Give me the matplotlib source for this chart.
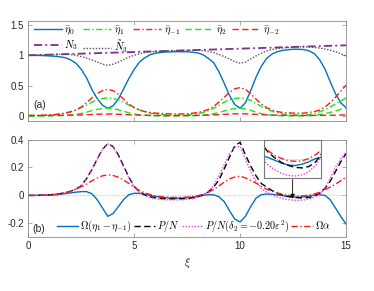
import numpy as np
import matplotlib
matplotlib.use("Agg")
from matplotlib import pyplot as plt

# xi grid shared by all curves (step 0.25)
xi = np.linspace(0, 15, 61)

# ---- panel (a) ----
eta0 = [1.000, 1.000, 0.998, 0.995, 0.990, 0.985, 0.975, 0.960, 0.925, 0.870,
        0.770, 0.630, 0.440, 0.290, 0.180, 0.130, 0.170, 0.280, 0.450, 0.620,
        0.770, 0.890, 0.960, 1.010, 1.035, 1.048, 1.055, 1.058, 1.060, 1.060,
        1.058, 1.052, 1.040, 1.010, 0.950, 0.880, 0.730, 0.540, 0.340, 0.190,
        0.130, 0.220, 0.420, 0.640, 0.820, 0.950, 1.020, 1.060, 1.080, 1.092,
        1.100, 1.100, 1.095, 1.075, 1.030, 0.930, 0.780, 0.570, 0.370, 0.220, 0.140]
eta1 = [0.005, 0.006, 0.008, 0.011, 0.015, 0.022, 0.035, 0.052, 0.075, 0.100,
        0.140, 0.180, 0.230, 0.270, 0.290, 0.300, 0.290, 0.270, 0.230, 0.180,
        0.140, 0.100, 0.075, 0.050, 0.035, 0.027, 0.020, 0.017, 0.015, 0.016,
        0.020, 0.028, 0.040, 0.060, 0.090, 0.130, 0.180, 0.230, 0.270, 0.290,
        0.300, 0.290, 0.260, 0.210, 0.160, 0.120, 0.080, 0.055, 0.035, 0.025,
        0.020, 0.018, 0.020, 0.025, 0.040, 0.070, 0.105, 0.150, 0.200, 0.250, 0.300]
eta_m1 = [0.010, 0.010, 0.012, 0.015, 0.020, 0.027, 0.035, 0.050, 0.070, 0.100,
          0.150, 0.220, 0.300, 0.370, 0.420, 0.440, 0.420, 0.360, 0.280, 0.200,
          0.140, 0.100, 0.075, 0.060, 0.050, 0.045, 0.040, 0.037, 0.035, 0.036,
          0.040, 0.048, 0.060, 0.080, 0.110, 0.160, 0.230, 0.310, 0.390, 0.450,
          0.470, 0.440, 0.370, 0.280, 0.200, 0.140, 0.100, 0.075, 0.060, 0.054,
          0.050, 0.049, 0.050, 0.060, 0.075, 0.100, 0.150, 0.220, 0.310, 0.410, 0.510]
eta2 = [0.000, 0.000, 0.001, 0.002, 0.003, 0.005, 0.008, 0.012, 0.018, 0.030,
        0.045, 0.065, 0.090, 0.110, 0.125, 0.130, 0.125, 0.105, 0.080, 0.055,
        0.035, 0.022, 0.013, 0.008, 0.005, 0.004, 0.003, 0.003, 0.003, 0.004,
        0.005, 0.007, 0.010, 0.016, 0.025, 0.040, 0.060, 0.085, 0.110, 0.125,
        0.130, 0.120, 0.095, 0.065, 0.040, 0.025, 0.015, 0.010, 0.006, 0.005,
        0.004, 0.004, 0.005, 0.008, 0.015, 0.025, 0.040, 0.060, 0.085, 0.110, 0.130]
eta_m2 = [0.012, 0.012, 0.012, 0.012, 0.013, 0.013, 0.014, 0.015, 0.016, 0.018,
          0.020, 0.023, 0.027, 0.031, 0.034, 0.035, 0.034, 0.031, 0.027, 0.023,
          0.020, 0.017, 0.015, 0.013, 0.012, 0.011, 0.010, 0.010, 0.010, 0.010,
          0.011, 0.012, 0.013, 0.015, 0.017, 0.020, 0.024, 0.029, 0.034, 0.038,
          0.040, 0.038, 0.034, 0.029, 0.024, 0.020, 0.017, 0.015, 0.013, 0.012,
          0.011, 0.010, 0.010, 0.010, 0.011, 0.012, 0.013, 0.015, 0.016, 0.018, 0.020]
xi_n3 = [0, 2.5, 5, 7.5, 10, 12.5, 15]
n3 = [1.000, 1.028, 1.055, 1.083, 1.110, 1.138, 1.165]
n3_tilde = [1.000, 1.003, 1.006, 1.008, 1.011, 1.014, 1.017, 1.019, 1.015, 1.000,
            0.980, 0.955, 0.925, 0.890, 0.855, 0.835, 0.855, 0.890, 0.930, 0.970,
            1.000, 1.025, 1.045, 1.058, 1.064, 1.069, 1.072, 1.074, 1.077, 1.080,
            1.083, 1.085, 1.084, 1.078, 1.065, 1.045, 1.015, 0.980, 0.940, 0.895,
            0.870, 0.890, 0.940, 0.990, 1.035, 1.070, 1.095, 1.110, 1.120, 1.128,
            1.134, 1.138, 1.140, 1.137, 1.130, 1.120, 1.105, 1.085, 1.060, 1.025, 0.990]

# ---- panel (b) ----
omega_diff = [0.000, 0.000, 0.000, 0.001, 0.002, 0.004, 0.008, 0.013, 0.018, 0.023,
              0.027, 0.027, 0.012, -0.030, -0.090, -0.150, -0.130, -0.080, -0.030, 0.005,
              0.015, 0.015, 0.008, 0.000, -0.008, -0.013, -0.017, -0.019, -0.020, -0.019,
              -0.017, -0.013, -0.008, 0.000, 0.005, 0.004, -0.010, -0.045, -0.110, -0.170,
              -0.190, -0.150, -0.080, -0.020, 0.005, 0.010, 0.008, 0.004, -0.002, -0.008,
              -0.012, -0.013, -0.010, -0.005, 0.002, 0.005, 0.000, -0.030, -0.090, -0.150, -0.205]
p_over_n = [0.000, 0.000, 0.001, 0.002, 0.004, 0.007, 0.012, 0.020, 0.030, 0.045,
            0.070, 0.120, 0.185, 0.260, 0.330, 0.370, 0.350, 0.290, 0.210, 0.130,
            0.065, 0.025, 0.003, -0.010, -0.018, -0.022, -0.024, -0.025, -0.025, -0.024,
            -0.022, -0.018, -0.010, 0.003, 0.025, 0.060, 0.110, 0.190, 0.275, 0.355,
            0.380, 0.290, 0.210, 0.140, 0.085, 0.060, 0.035, 0.015, 0.003, -0.007,
            -0.013, -0.017, -0.018, -0.015, -0.005, 0.015, 0.050, 0.100, 0.170, 0.240, 0.300]
p_over_n_d2 = [0.000, 0.000, 0.001, 0.002, 0.004, 0.007, 0.012, 0.020, 0.030, 0.045,
               0.070, 0.120, 0.185, 0.260, 0.330, 0.368, 0.348, 0.285, 0.205, 0.125,
               0.060, 0.020, -0.002, -0.015, -0.024, -0.029, -0.031, -0.032, -0.032, -0.031,
               -0.029, -0.024, -0.014, 0.002, 0.027, 0.070, 0.140, 0.220, 0.295, 0.345,
               0.350, 0.260, 0.170, 0.100, 0.050, 0.022, 0.003, -0.012, -0.022, -0.030,
               -0.034, -0.035, -0.033, -0.026, -0.012, 0.010, 0.050, 0.120, 0.200, 0.260, 0.310]
omega_alpha = [0.000, 0.000, 0.001, 0.002, 0.004, 0.007, 0.012, 0.020, 0.030, 0.045,
               0.062, 0.082, 0.104, 0.124, 0.140, 0.147, 0.143, 0.130, 0.110, 0.085,
               0.058, 0.035, 0.018, 0.006, -0.003, -0.008, -0.012, -0.014, -0.015, -0.014,
               -0.012, -0.008, -0.002, 0.008, 0.022, 0.042, 0.068, 0.095, 0.118, 0.132,
               0.137, 0.125, 0.108, 0.088, 0.065, 0.045, 0.030, 0.018, 0.008, 0.002,
               -0.003, -0.004, -0.003, 0.002, 0.010, 0.022, 0.040, 0.060, 0.080, 0.105, 0.130]

BLUE = "#0072BD"
GREEN = "#19E619"
RED = "#FF1A1A"
PURPLE = "#7E2F8E"
MAGENTA = "#F03CF0"
FRAME = "#8a8a8a"
TXT = "#262626"

plt.rcParams["font.family"] = ["Liberation Sans", "DejaVu Sans"]
plt.rcParams["mathtext.fontset"] = "cm"
plt.rcParams["font.size"] = 7

DD = (4.5, 1.8, 1.0, 1.8)   # dash-dot
DA = (4.5, 2.5)             # dashed
DO = (1.0, 1.2)             # dotted


def style_axes(ax):
    for s in ax.spines.values():
        s.set_color(FRAME)
        s.set_linewidth(0.6)
    ax.tick_params(direction="in", top=True, right=True, length=3, width=0.5,
                   color=FRAME, labelcolor=TXT, labelsize=7, pad=3)


fig = plt.figure(figsize=(3.74, 2.91), dpi=100)
ax1 = fig.add_axes([0.0757, 0.5842, 0.8495, 0.3447])
ax2 = fig.add_axes([0.0757, 0.1845, 0.8495, 0.3361])

lw = 1.0
h0, = ax1.plot(xi, eta0, color=BLUE, lw=lw, label=r"$\bar{\eta}_0$")
h1, = ax1.plot(xi, eta1, color=GREEN, lw=lw, dashes=DD, label=r"$\bar{\eta}_1$")
hm1, = ax1.plot(xi, eta_m1, color=RED, lw=lw, dashes=DD, label=r"$\bar{\eta}_{-1}$")
h2, = ax1.plot(xi, eta2, color=GREEN, lw=lw, dashes=DA, label=r"$\bar{\eta}_2$")
hm2, = ax1.plot(xi, eta_m2, color=RED, lw=lw, dashes=DA, label=r"$\bar{\eta}_{-2}$")
hn, = ax1.plot(xi_n3, n3, color=PURPLE, lw=1.3, dashes=DD, label=r"$N_3$")
hnt, = ax1.plot(xi, n3_tilde, color="#555555", lw=lw, dashes=DO, label=r"$\tilde{N}_3$")

ax1.set_xlim(0, 15)
ax1.set_ylim(-0.08, 1.57)
ax1.set_xticks([0, 5, 10, 15])
ax1.set_xticklabels([])
ax1.set_yticks([0, 0.5, 1, 1.5])
ax1.set_yticklabels(["0", "0.5", "1", "1.5"])
style_axes(ax1)

blank, = ax1.plot([], [], color="none")
handles = [h0, hn, h1, hnt, hm1, blank, h2, blank, hm2, blank]
labels = [h.get_label() if h is not blank else "" for h in handles]
ax1.legend(handles, labels, ncol=5, loc="upper left", bbox_to_anchor=(0.0, 1.02),
           frameon=False, fontsize=7.5, handlelength=2.7, handletextpad=0.25,
           columnspacing=0.5, labelspacing=0.15, borderaxespad=0.1)
ax1.text(0.017, 0.16, "(a)", transform=ax1.transAxes, va="center", ha="left",
         fontsize=7.5, color=TXT)

# ---- panel (b) ----
def draw_b(ax, lw=1.0):
    ax.axhline(0, color="#c8c8c8", lw=0.8, dashes=(1, 1.2))
    a, = ax.plot(xi, omega_diff, color=BLUE, lw=lw,
                 label=r"$\Omega(\eta_1-\eta_{-1})$")
    b, = ax.plot(xi, p_over_n, color="black", lw=lw, dashes=DA, label=r"$P/N$")
    c, = ax.plot(xi, p_over_n_d2, color=MAGENTA, lw=lw, dashes=DO,
                 label=r"$P/N(\delta_2=-0.20\varepsilon^2)$")
    d, = ax.plot(xi, omega_alpha, color=RED, lw=lw, dashes=DD, label=r"$\Omega\alpha$")
    return [a, b, c, d]


hb = draw_b(ax2)
ax2.set_xlim(0, 15)
ax2.set_ylim(-0.3, 0.4)
ax2.set_xticks([0, 5, 10, 15])
ax2.set_xticklabels(["0", "5", "10", "15"])
ax2.set_yticks([-0.2, 0, 0.2, 0.4])
ax2.set_yticklabels(["-0.2", "0", "0.2", "0.4"])
style_axes(ax2)
ax2.set_xlabel(r"$\xi$", color=TXT, fontsize=8, labelpad=3)
ax2.legend(handles=hb, ncol=4, loc="lower center", bbox_to_anchor=(0.52, -0.02),
           frameon=False, fontsize=7.3, handlelength=2.1, handletextpad=0.2,
           columnspacing=0.2, borderaxespad=0.1)
ax2.text(0.014, 0.09, "(b)", transform=ax2.transAxes, va="center", ha="left",
         fontsize=7.5, color=TXT)

# inset zoom of the trough
axin = ax2.inset_axes([0.742, 0.603, 0.180, 0.397])
draw_b(axin)
axin.set_xlim(11.6, 13.7)
axin.set_ylim(-0.04, 0.042)
axin.set_xticks([])
axin.set_yticks([])
for s in axin.spines.values():
    s.set_color("#777777")
    s.set_linewidth(0.8)

ax2.annotate("", xy=(12.48, -0.022), xytext=(12.48, 0.114),
             arrowprops=dict(arrowstyle="-|>", color="black", lw=0.6,
                             mutation_scale=6, shrinkA=0, shrinkB=0))

fig.savefig("out.png", dpi=100)
